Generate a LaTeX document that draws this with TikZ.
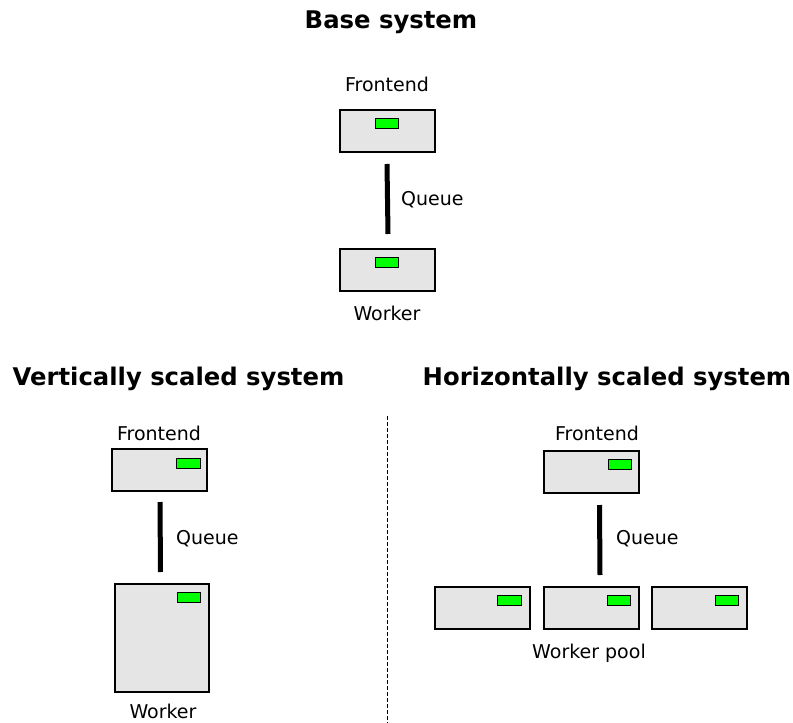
\documentclass[tikz,border=0pt]{standalone}
\usepackage{fontspec}
\setmainfont{DejaVu Sans}
\definecolor{boxgray}{HTML}{E5E5E5}
\definecolor{ledgreen}{HTML}{00FF00}
\begin{document}
\begin{tikzpicture}[x=1pt,y=-1pt,
  server/.style={draw, fill=boxgray, line width=1.2pt, minimum width=95pt, minimum height=42pt, inner sep=0pt},
  bigserver/.style={server, line width=2pt, minimum width=94pt, minimum height=108pt},
  led/.style={draw, fill=ledgreen, line width=0.8pt, minimum width=23.5pt, minimum height=10pt, inner sep=0pt},
  queue/.style={line width=5pt},
  label/.style={font=\fontsize{19}{22}\selectfont, inner sep=0pt},
  heading/.style={font=\fontsize{24.3}{28}\selectfont\bfseries, inner sep=0pt}]
\useasboundingbox (0,0) rectangle (793,723);

% Base system
\node[heading] (t1) at (391,22) {Base system};
\node[label] (bf-l) at (387,84) {Frontend};
\node[server] (bf) at (387.5,131) {};
\node[led] (bf-led) at (387,123) {};
\node[server] (bw) at (387.5,270) {};
\node[led] (bw-led) at (387,262) {};
\node[label] (bw-l) at (387,313) {Worker};
\coordinate (bq1) at (387,164);
\coordinate (bq2) at (388,234);
\draw[queue] (bq1) -- (bq2);
\node[label, anchor=west] (bq-l) at (401,200) {Queue};

% Vertically scaled system
\node[heading] (t2) at (178.5,379) {Vertically scaled system};
\node[label] (vf-l) at (159,433) {Frontend};
\node[server] (vf) at (159.5,470) {};
\node[led] (vf-led) at (188.5,463) {};
\node[bigserver] (vw) at (162,638) {};
\node[led] (vw-led) at (189,597) {};
\node[label] (vw-l) at (163,711.5) {Worker};
\coordinate (vq1) at (160,502);
\coordinate (vq2) at (160.5,572);
\draw[queue] (vq1) -- (vq2);
\node[label, anchor=west] (vq-l) at (176,539) {Queue};

% Divider
\coordinate (d1) at (387,416);
\coordinate (d2) at (387,723);
\draw[dashed, line width=0.8pt, dash pattern=on 4pt off 2pt] (d1) -- (d2);

% Horizontally scaled system
\node[heading] (t3) at (607,379) {Horizontally scaled system};
\node[label] (hf-l) at (597,433) {Frontend};
\node[server] (hf) at (591.5,472) {};
\node[led] (hf-led) at (620,464) {};
\coordinate (hq1) at (599.5,505);
\coordinate (hq2) at (600,575);
\draw[queue] (hq1) -- (hq2);
\node[label, anchor=west] (hq-l) at (616,539) {Queue};
\node[server] (hw1) at (482.5,608) {};
\node[led] (hw1-led) at (509.5,600) {};
\node[server] (hw2) at (591.5,608) {};
\node[led] (hw2-led) at (619,600) {};
\node[server] (hw3) at (699.5,608) {};
\node[led] (hw3-led) at (727,600) {};
\node[label] (hw-l) at (589,653) {Worker pool};
\end{tikzpicture}
\end{document}
